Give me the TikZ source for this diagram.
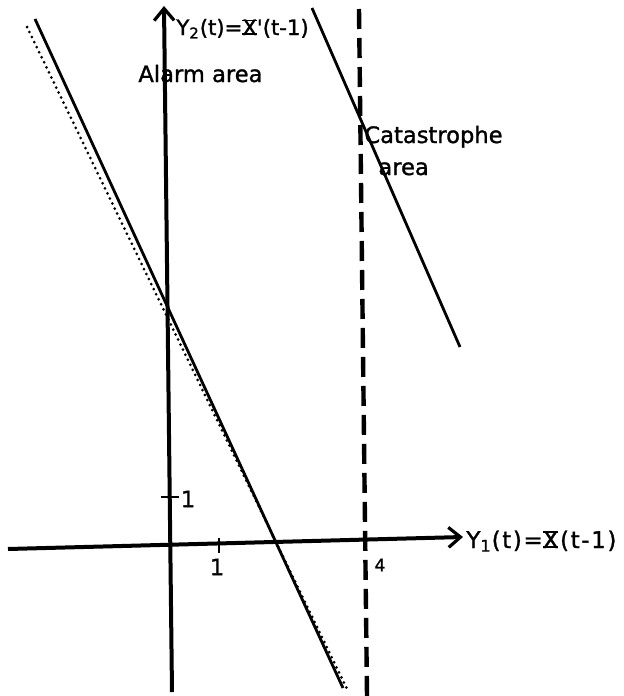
\documentclass[tikz,border=0pt]{standalone}
\usepackage{fontspec}
\newfontfamily\lettering[BoldFont={DejaVu Sans}, BoldFeatures={FakeBold=1.3}]{DejaVu Sans}
\newfontfamily\spaced[LetterSpace=7, BoldFont={DejaVu Sans}, BoldFeatures={FakeBold=1.3, LetterSpace=7}]{DejaVu Sans}
\usetikzlibrary{arrows.meta,positioning}
% X with a bar on top and below, as in the lettering of the figure
\newcommand{\barx}{\leavevmode\rlap{\rule{0.68em}{0.09em}}\rlap{\raisebox{0.64em}{\rule{0.68em}{0.09em}}}X}

\begin{document}
\begin{tikzpicture}[
  x=0.5pt, y=-0.5pt,
  axis/.style={line width=2pt, -{Straight Barb[length=6pt, width=10pt, line width=1.6pt]}},
  bound/.style={line width=1.4pt},
  approx/.style={line width=1.5pt, line cap=round, dash pattern=on 0pt off 2.8pt},
  limit/.style={line width=2.2pt, dash pattern=on 10pt off 4.5pt},
  tick/.style={line width=1.4pt},
  lbl/.style={font=\lettering\bfseries\fontsize{11.3}{13}\selectfont, inner sep=0pt},
  formula/.style={font=\spaced\bfseries\fontsize{11.5}{13}\selectfont, inner sep=0pt},
  small/.style={font=\lettering\bfseries\fontsize{8.5}{10}\selectfont, inner sep=0pt}
]
\useasboundingbox (0,0) rectangle (623,696);

% axes
\coordinate (xstart) at (8,549);
\coordinate (xend) at (463,537);
\coordinate (ystart) at (172,692);
\coordinate (yend) at (164,6);
\draw[axis] (xstart) -- (xend);
\draw[axis] (ystart) -- (yend);

% ticks
\coordinate (t1a) at (219,538);
\coordinate (t1b) at (219,553);
\coordinate (u1a) at (161,497);
\coordinate (u1b) at (179,497);
\draw[tick] (t1a) -- (t1b);
\draw[tick] (u1a) -- (u1b);

% alarm boundary and its approximation
\coordinate (alarmtop) at (35,19);
\coordinate (alarmbot) at (343,688);
\coordinate (approxtop) at (27,27);
\coordinate (approxbot) at (348,691);
\draw[bound] (alarmtop) -- (alarmbot);
\draw[approx] (approxtop) -- (approxbot);

% catastrophe boundary
\coordinate (cattop) at (312,8);
\coordinate (catbot) at (460,347);
\draw[bound] (cattop) -- (catbot);

% x = 4
\coordinate (fourtop) at (359,9);
\coordinate (fourbot) at (367,696);
\draw[limit] (fourtop) -- (fourbot);

% labels
\node[lbl, font=\lettering\bfseries\fontsize{10.6}{13}\selectfont, anchor=base west] (ylab) at (176,35) {Y\textsubscript{2}(t)=\barx'(t-1)};
\node[formula, anchor=base west] (xlab) at (466,548) {Y\textsubscript{1}(t)=\barx(t-1)};
\node[lbl, anchor=base west] (alarm) at (138,82) {Alarm area};
\node[lbl, anchor=base west] (cat) at (364,143) {Catastrophe};
\node[lbl, anchor=base west] (catarea) at (378,175) {area};
\node[lbl] (one x) at (217,567) {1};
\node[lbl] (one y) at (188,499) {1};
\node[small] (four) at (380,565) {4};
\end{tikzpicture}
\end{document}
